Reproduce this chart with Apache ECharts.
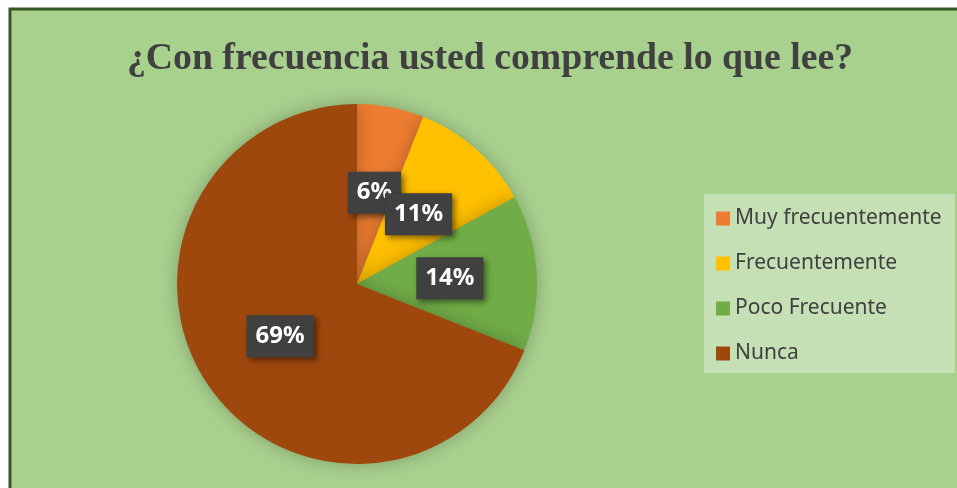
<!DOCTYPE html>
<html>
<head>
<meta charset="utf-8">
<script src="https://cdn.jsdelivr.net/npm/echarts@6/dist/echarts.min.js"></script>
<style>
  html, body { margin: 0; padding: 0; background: #fff; }
  #chart { width: 957px; height: 488px; }
</style>
</head>
<body>
<div id="chart"></div>
<script>
// categorias y porcentajes
var categorias = ['Muy frecuentemente', 'Frecuentemente', 'Poco Frecuente', 'Nunca']
var valores = [6, 11, 14, 69]
var colores = ['#ED7D31', '#FFC000', '#70AD47', '#9E480E']
var titulo = '¿Con frecuencia usted comprende lo que lee?'

var chart = echarts.init(document.getElementById('chart'))

var datos = []
for (var i = 0; i < categorias.length; i++) {
    datos.push({ name: categorias[i], value: valores[i], itemStyle: { color: colores[i] } })
}

var option = {
    backgroundColor: '#fff',
    animation: false,
    graphic: [
        // fondo verde del area del grafico
        {
            type: 'rect', z: -10, silent: true,
            shape: { x: 10, y: 9, width: 960, height: 490 },
            style: { fill: '#A9D18E', stroke: '#375623', lineWidth: 3 }
        },
        // recuadro de la leyenda
        {
            type: 'rect', z: -5, silent: true,
            shape: { x: 704, y: 194, width: 251, height: 179 },
            style: { fill: '#C5E0B4' }
        },
        // titulo
        {
            type: 'text', silent: true,
            x: 490, y: 59,
            scaleX: 1.02,
            style: {
                text: titulo,
                align: 'center',
                verticalAlign: 'middle',
                font: 'bold 37px "Liberation Serif"',
                fill: '#404040'
            }
        }
    ],
    legend: {
        orient: 'vertical',
        left: 704,
        top: 194,
        padding: [14, 12, 10, 12],
        icon: 'rect',
        itemWidth: 14,
        itemHeight: 14,
        itemGap: 24,
        data: categorias,
        textStyle: {
            fontFamily: 'Noto Sans',
            fontSize: 21,
            lineHeight: 21,
            color: '#404040'
        }
    },
    series: [{
        type: 'pie',
        center: [357, 284],
        radius: ['0%', 180],
        startAngle: 90,
        clockwise: true,
        data: datos,
        itemStyle: {
            shadowBlur: 18,
            shadowColor: 'rgba(0,0,0,0.25)'
        },
        label: {
            show: true,
            position: 'inside',
            formatter: '{c}%',
            fontFamily: 'Noto Sans',
            fontWeight: 'bold',
            fontSize: 24,
            lineHeight: 24,
            color: '#fff',
            backgroundColor: '#404040',
            padding: [10, 9, 8, 9],
            shadowBlur: 6,
            shadowOffsetX: 3,
            shadowOffsetY: 3,
            shadowColor: 'rgba(0,0,0,0.5)'
        },
        labelLayout: { hideOverlap: false },
        labelLine: { show: false },
        emphasis: { disabled: true }
    }]
}

chart.setOption(option)
</script>
</body>
</html>
